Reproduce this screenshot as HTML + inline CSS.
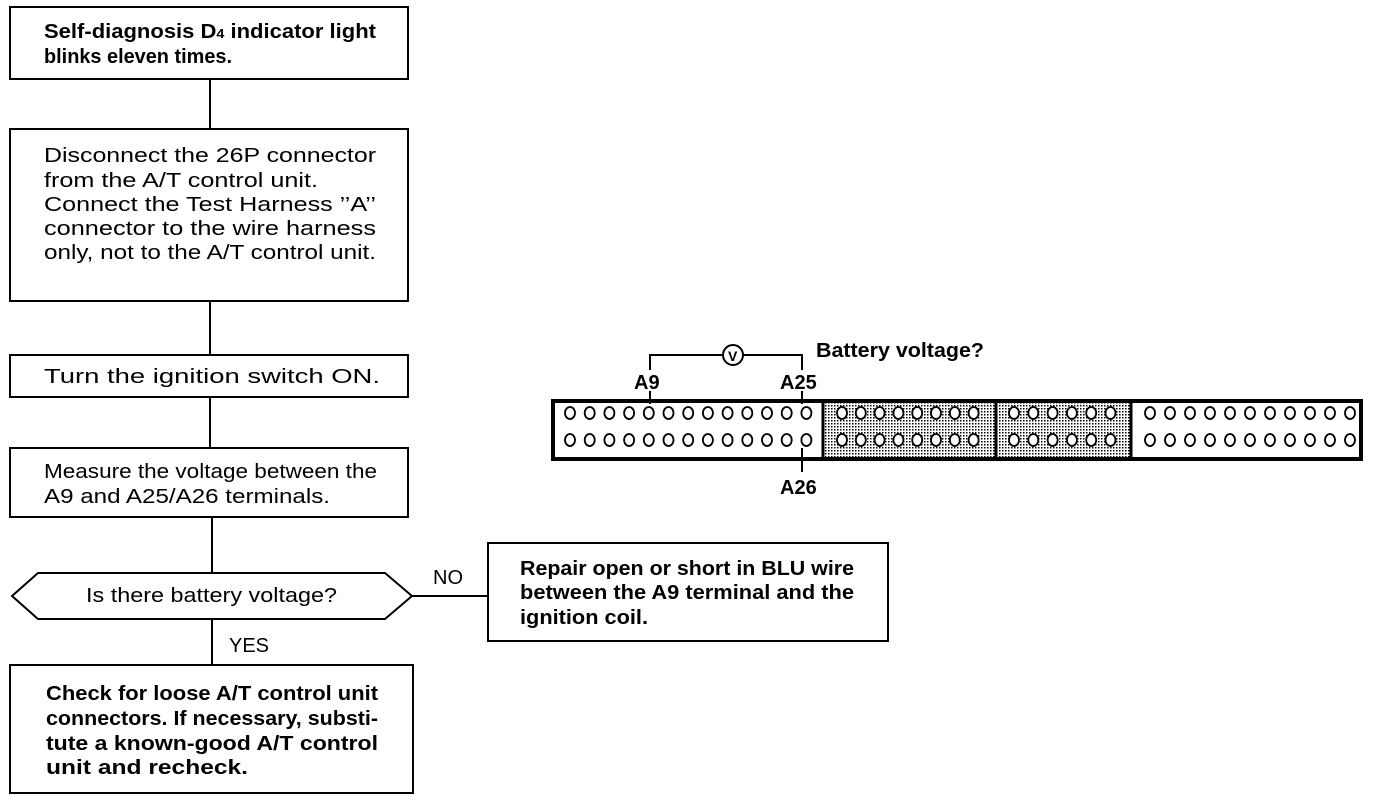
<!DOCTYPE html>
<html><head><meta charset="utf-8"><style>
html,body{margin:0;padding:0;background:#fff;}
svg{display:block;font-family:"Liberation Sans",Arial,sans-serif;font-size:20px;fill:#000}
.b{font-weight:bold}
</style></head><body>
<svg id="s" width="1376" height="800" viewBox="0 0 1376 800" xmlns="http://www.w3.org/2000/svg">
<defs>
<pattern id="dots" width="3" height="3" patternUnits="userSpaceOnUse"><rect width="3" height="3" fill="#fff"/><rect width="1.5" height="1.5" fill="#000"/></pattern>
</defs>
<g fill="none" stroke="#000" stroke-width="2">
<rect x="10" y="7" width="398" height="72"/>
<rect x="10" y="129" width="398" height="172"/>
<rect x="10" y="355" width="398" height="42"/>
<rect x="10" y="448" width="398" height="69"/>
<polygon points="12,596 38,573 385,573 412,596 385,619 38,619"/>
<rect x="488" y="543" width="400" height="98"/>
<rect x="10" y="665" width="403" height="128"/>
<line x1="210" y1="79" x2="210" y2="129"/>
<line x1="210" y1="301" x2="210" y2="355"/>
<line x1="210" y1="397" x2="210" y2="448"/>
<line x1="212" y1="517" x2="212" y2="573"/>
<line x1="212" y1="619" x2="212" y2="665"/>
<line x1="412" y1="596" x2="488" y2="596"/>
<polyline points="650,370 650,355 723,355"/>
<polyline points="743,355 802,355 802,370"/>
<line x1="650" y1="391" x2="650" y2="404"/>
<line x1="802" y1="391" x2="802" y2="404"/>
<circle cx="733" cy="355" r="10"/>
<line x1="802" y1="448" x2="802" y2="472"/>
</g>
<text x="728" y="361" style="font-size:14px" class="b">V</text>
<rect x="824" y="401" width="172" height="57" fill="url(#dots)"/>
<rect x="997" y="401" width="134" height="57" fill="url(#dots)"/>
<g fill="none" stroke="#000">
<rect x="553" y="401" width="808" height="58" stroke-width="4"/>
<line x1="823" y1="400" x2="823" y2="460" stroke-width="3"/>
<line x1="996" y1="400" x2="996" y2="460" stroke-width="3"/>
<line x1="1131" y1="400" x2="1131" y2="460" stroke-width="3"/>
</g>
<g id="holes" fill="#fff" stroke="#000" stroke-width="1.8"></g>
<text lengthAdjust="spacingAndGlyphs" class="b" x="44" y="38" textLength="332">Self-diagnosis D<tspan style="font-size:13px">4</tspan> indicator light</text>
<text lengthAdjust="spacingAndGlyphs" class="b" x="44" y="63" textLength="188">blinks eleven times.</text>
<text lengthAdjust="spacingAndGlyphs" x="44" y="162" textLength="332">Disconnect the 26P connector</text>
<text lengthAdjust="spacingAndGlyphs" x="44" y="187" textLength="274">from the A/T control unit.</text>
<text lengthAdjust="spacingAndGlyphs" x="44" y="211" textLength="332">Connect the Test Harness ’’A’’</text>
<text lengthAdjust="spacingAndGlyphs" x="44" y="235" textLength="332">connector to the wire harness</text>
<text lengthAdjust="spacingAndGlyphs" x="44" y="259" textLength="332">only, not to the A/T control unit.</text>
<text lengthAdjust="spacingAndGlyphs" x="44" y="383" textLength="336">Turn the ignition switch ON.</text>
<text lengthAdjust="spacingAndGlyphs" x="44" y="478" textLength="333">Measure the voltage between the</text>
<text lengthAdjust="spacingAndGlyphs" x="44" y="503" textLength="286">A9 and A25/A26 terminals.</text>
<text lengthAdjust="spacingAndGlyphs" x="86" y="602" textLength="251">Is there battery voltage?</text>
<text x="433" y="584">NO</text>
<text x="229" y="652">YES</text>
<text lengthAdjust="spacingAndGlyphs" class="b" x="520" y="575" textLength="334">Repair open or short in BLU wire</text>
<text lengthAdjust="spacingAndGlyphs" class="b" x="520" y="599" textLength="334">between the A9 terminal and the</text>
<text lengthAdjust="spacingAndGlyphs" class="b" x="520" y="624" textLength="128">ignition coil.</text>
<text lengthAdjust="spacingAndGlyphs" class="b" x="46" y="700" textLength="332">Check for loose A/T control unit</text>
<text lengthAdjust="spacingAndGlyphs" class="b" x="46" y="725" textLength="332">connectors. If necessary, substi-</text>
<text lengthAdjust="spacingAndGlyphs" class="b" x="46" y="750" textLength="332">tute a known-good A/T control</text>
<text lengthAdjust="spacingAndGlyphs" class="b" x="46" y="774" textLength="202">unit and recheck.</text>
<text lengthAdjust="spacingAndGlyphs" class="b" x="816" y="357" textLength="168">Battery voltage?</text>
<text class="b" x="634" y="389">A9</text>
<text class="b" x="780" y="389">A25</text>
<text class="b" x="780" y="494">A26</text>
</svg>
<script>
var g=document.getElementById('holes'),ns='http://www.w3.org/2000/svg';
function row(x0,dx,n){[413,440].forEach(function(y){for(var i=0;i<n;i++){var e=document.createElementNS(ns,'ellipse');e.setAttribute('cx',x0+i*dx);e.setAttribute('cy',y);e.setAttribute('rx',5);e.setAttribute('ry',6);g.appendChild(e);}});}
row(570,19.7,13);row(842,18.8,8);row(1014,19.3,6);row(1150,20,11);
</script>
</body></html>
